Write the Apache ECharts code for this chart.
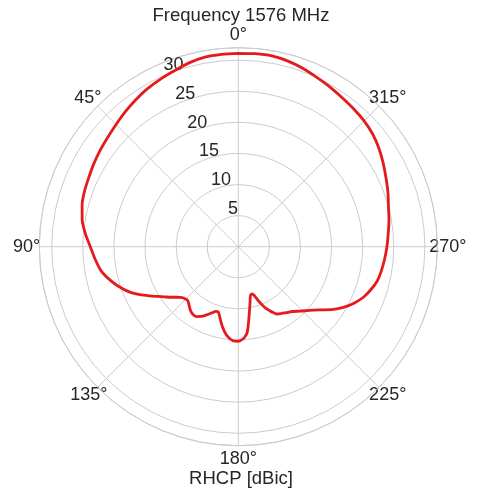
<!DOCTYPE html>
<html><head><meta charset="utf-8">
<script src="https://cdn.jsdelivr.net/npm/echarts@6/dist/echarts.min.js"></script>
<style>html,body{margin:0;padding:0;background:#fff}#c{width:482px;height:497px}</style>
</head><body><div id="c"></div>
<script>
const titleText = 'Frequency 1576 MHz';
const axisTitle = 'RHCP [dBic]';
const angleTickLabels = ['0°','45°','90°','135°','180°','225°','270°','315°'];
const radiusTicks = [5, 10, 15, 20, 25, 30];
const angleDeg = [0,5,10,15,20,25,30,35,40,45,50,55,60,65,70,75,80,85,90,95,100,105,110,113,116,119,122,125,128,131,134,137,140,143,146,149,152,155,158,161,163,165,167,169,171,173,175,177,180,182,184,186,188,190,192,194,196,198,200,202,204,206,208,210,213,216,220,224,228,232,236,240,244,248,252,256,260,265,270,275,280,285,290,295,300,305,310,315,320,325,330,335,340,345,350,355,360];
const gainDbic = [31.1,31.05,30.95,30.6,30.1,29.7,29.3,28.8,28.3,27.8,27.4,27.1,26.8,26.5,26.3,26.0,25.5,24.7,23.8,23.1,22.4,21.2,19.8,18.8,17.6,16.3,15.1,14.1,13.2,12.4,12.0,11.9,12.3,12.8,13.1,13.1,12.7,12.1,11.5,11.0,11.0,11.6,12.4,13.2,13.9,14.5,14.9,15.15,15.2,15.0,14.6,13.8,12.0,10.4,9.1,8.1,7.9,8.2,9.1,10.0,10.8,11.4,12.0,12.5,12.8,13.1,13.6,14.4,15.3,16.5,18.1,19.5,20.7,21.7,22.4,23.0,23.3,23.6,23.9,24.2,24.6,25.0,25.6,26.2,26.9,27.6,28.2,28.6,28.9,29.2,29.6,30.0,30.5,30.9,31.15,31.15,31.1];

const FONT = '"Liberation Sans", Arial, sans-serif';
const TEXT = '#262626';
const GRID = '#cccccc';
const CENTER = [238.3, 246.7];
const RADIUS = 199;
const RMAX = 32;
// per-label padding [top,right,bottom,left] to center labels like matplotlib
const anglePad = {'0°':[0,0,18,0],'45°':[0,6,9,0],'90°':[0,13,0,0],'135°':[9,0,0,0],
                  '180°':[18,0,0,0],'225°':[9,0,0,0],'270°':[0,0,0,6],'315°':[0,0,9,0]};

const chart = echarts.init(document.getElementById('c'), null, {renderer: 'canvas'});
const hidden = {show: false};
chart.setOption({
  backgroundColor: '#ffffff',
  animation: false,
  title: [
    {text: titleText, left: 'center', top: 0, padding: [6, 5, 5, 5],
     textStyle: {fontFamily: FONT, fontSize: 18.5, fontWeight: 'normal', color: TEXT}},
    {text: axisTitle, left: 'center', top: 469, padding: 0,
     textStyle: {fontFamily: FONT, fontSize: 18.5, fontWeight: 'normal', color: TEXT}}
  ],
  polar: [
    {center: CENTER, radius: RADIUS},
    {center: CENTER, radius: RADIUS},
    {center: CENTER, radius: RADIUS}
  ],
  angleAxis: [
    {polarIndex: 0, type: 'value', min: 0, max: 360, interval: 45, startAngle: 90, clockwise: false,
     axisLine: {show: true, lineStyle: {color: GRID, width: 1}},
     axisTick: hidden, axisLabel: hidden,
     splitLine: {show: true, lineStyle: {color: GRID, width: 1}}},
    {polarIndex: 1, type: 'category', boundaryGap: false, startAngle: 90, clockwise: false,
     data: angleTickLabels.map(t => ({value: t, textStyle: {padding: anglePad[t]}})),
     axisLine: hidden, axisTick: hidden, splitLine: hidden,
     axisLabel: {show: true, interval: 0, margin: -14, fontFamily: FONT, fontSize: 18, color: TEXT}},
    {polarIndex: 2, type: 'value', min: 0, max: 360, startAngle: 112.5, clockwise: false,
     axisLine: hidden, axisTick: hidden, axisLabel: hidden, splitLine: hidden}
  ],
  radiusAxis: [
    {polarIndex: 0, type: 'value', min: 0, max: RMAX, interval: 5,
     axisLine: hidden, axisTick: hidden, axisLabel: hidden,
     splitLine: {show: true, lineStyle: {color: GRID, width: 1}}},
    {polarIndex: 1, type: 'value', min: 0, max: RMAX, show: false},
    {polarIndex: 2, type: 'value', min: 0, max: RMAX, interval: 5,
     axisLine: hidden, axisTick: hidden, splitLine: hidden,
     axisLabel: {show: true, margin: 0, align: 'center', verticalAlign: 'bottom',
       padding: [0, 0, 0, 13], fontFamily: FONT, fontSize: 18, color: TEXT,
       showMinLabel: true, showMaxLabel: true,
       formatter: v => radiusTicks.indexOf(v) >= 0 ? String(v) : ''}}
  ],
  series: [{
    type: 'line', coordinateSystem: 'polar', polarIndex: 0,
    data: angleDeg.map((a, i) => [gainDbic[i], a]),
    smooth: 0.3, showSymbol: false, symbol: 'none',
    lineStyle: {color: '#e41a1c', width: 2.8},
    z: 5
  }]
});
</script></body></html>
